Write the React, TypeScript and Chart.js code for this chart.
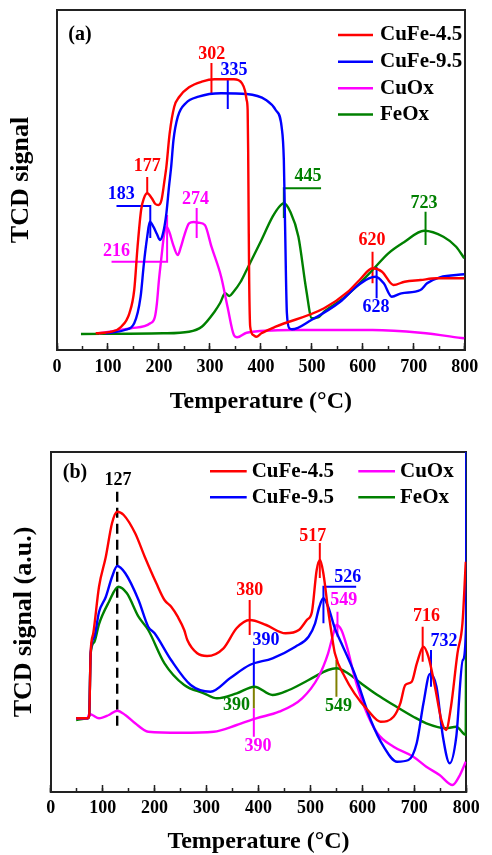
import React, { useEffect, useRef } from "react";
import { Chart, registerables } from "chart.js";

Chart.register(...registerables);

const FONT = "'Liberation Serif', 'Times New Roman', serif";

// ---------- Panel (a) data: [temperature (°C), TCD signal (arb. units)] ----------
const aCuFe45: number[][] = [
  [76, 16.7], [107, 18.3], [126, 23.3], [142, 36.7], [151.5, 60], [158, 103], [165, 140], [170.5, 151.7],
  [177, 156.7], [186, 151.7], [193, 146], [199, 145], [205, 150], [211, 170], [214.6, 183.3], [221, 216.7],
  [230, 243.3], [240, 253.3], [259, 262.7], [284, 268.3], [309, 270.7], [347, 270.7], [363, 266.7], [369, 259],
  [372, 250], [374, 240], [375, 200], [376, 130], [377, 70], [379, 23.3], [385, 15], [391, 13.3], [401, 16.7],
  [429, 23.3], [524, 41.7], [571, 58.3], [593.5, 70], [619, 81.7], [637.6, 78.3], [660, 65], [682, 68.3],
  [713, 70], [745, 71.7], [799, 71.7],
];
const aCuFe95: number[][] = [
  [95, 16.7], [133, 20], [151.5, 26.7], [164, 53.3], [170.5, 86.7], [177, 113.3], [182, 128.3], [189, 123.3],
  [196, 116], [202, 110], [208, 116.7], [214.6, 136.7], [219.7, 163.3], [224, 183.3], [228.5, 210], [237, 233.3],
  [252.5, 246.7], [277.7, 253.3], [322, 256.7], [372, 256], [410, 250], [429, 240], [440.6, 223.3], [445, 190],
  [447, 136.7], [451, 36.7], [456, 21.7], [461, 20.7], [499, 30], [555.6, 48.3], [587, 63.3], [612, 71.7],
  [625, 73.3], [641, 66.7], [656.6, 53.3], [675.5, 56.7], [713, 60], [726, 66.7], [751, 72.7], [799, 75.7],
];
const aCuOx: number[][] = [
  [82, 16.7], [145, 21.7], [183, 26.7], [192, 33], [196, 46.7], [200, 70], [205, 93.3], [210, 115], [215, 123.3],
  [221, 117], [227, 106.7], [237, 95], [243, 103], [249, 113.3], [259, 126.7], [268, 128], [278, 127.3],
  [290, 125], [303, 103.3], [322, 73.3], [334.5, 43.3], [347, 15], [353.5, 12.7], [372, 17.3], [461, 20],
  [619, 20], [713, 17.3], [799, 11.7],
];
const aFeOx: number[][] = [
  [47, 16], [208, 16.7], [259, 18.3], [284, 23.3], [309, 38.3], [320, 47], [330, 56.7], [338, 54], [346, 58],
  [360, 68], [372, 80], [398, 106.7], [423, 133.3], [436, 143.3], [445, 146.7], [457.6, 138.3], [473.6, 113.3],
  [489, 60], [500, 31.7], [507, 32], [514.5, 33.3], [524, 38.3], [562, 51.7], [587, 63.3], [619, 80],
  [650, 96.7], [682, 108.3], [720, 119.3], [758, 113.3], [783, 103.3], [799, 91.7],
];

// ---------- Panel (b) data ----------
const bCuFe45: number[][] = [
  [49, 73.7], [71, 73.7], [74, 76], [77, 140.3], [82, 158.7], [93, 205.3], [106, 235], [118, 268.7], [128, 280.3],
  [140.5, 277], [162.6, 258.7], [181, 235.3], [203.4, 208.7], [219, 192], [232, 185.3], [244.5, 175.3], [257, 162],
  [263, 152], [282, 138.7], [301, 136], [332.6, 143.7], [357.8, 163.7], [383, 172], [414.7, 167], [452, 158.7],
  [477.6, 162], [493, 172], [502.8, 180], [512, 222], [518.5, 232], [524.8, 218.7], [534, 182], [540.6, 158.7],
  [547, 138.7], [566, 115.3], [584.7, 98.7], [610, 82], [635, 70.3], [660, 75.3], [673, 88.7], [682.5, 107],
  [695, 110.3], [704.8, 128.7], [717.5, 145.3], [727, 135.3], [739.7, 105.3], [752, 72], [761, 62], [770.5, 85.3],
  [783, 138.7], [792.6, 168.7], [799, 230.3],
];
const bCuFe95: number[][] = [
  [49, 73.7], [71, 73.7], [74, 76], [77, 140], [84, 155], [93, 180], [106, 195], [118, 215], [128, 226],
  [143.6, 218.7], [169, 192], [187.7, 165.3], [200, 158.7], [231.7, 132], [269.5, 107], [307.5, 100.3],
  [345, 113.7], [383, 127], [427, 133.7], [471, 145.3], [496.4, 155.3], [509, 168.7], [517, 185], [524.8, 193.7],
  [534, 185.3], [547, 163.7], [559.6, 148.7], [584.7, 118.7], [616, 72], [641, 45.3], [666.6, 30.3],
  [688.7, 32], [704.5, 48.7], [717.5, 88.7], [730, 118], [742.6, 105.3], [755, 55.3], [768, 28.7],
  [780.7, 55.3], [793.3, 132], [799.6, 165.3], [800, 345],
];
const bCuOx: number[][] = [
  [49, 73.7], [71, 73.7], [74, 78], [80, 77], [93, 73.7], [112, 77], [128, 81.3], [143.6, 77], [162.6, 68.7],
  [187.7, 60.3], [250.6, 59.3], [313.8, 60.3], [358, 67], [395.6, 73.7], [439.7, 80.3], [484, 93.7],
  [515.5, 115.3], [534, 138.7], [545, 160], [550, 167], [559.6, 162], [572, 142], [584.7, 115.3], [603.6, 85.3],
  [628.8, 58.7], [660, 45.3], [698, 35.3], [723, 25.3], [748.5, 17], [773.7, 7], [786, 15.3], [799, 30.3],
];
const bFeOx: number[][] = [
  [49, 72], [71, 73.7], [74, 76], [77, 138.7], [84, 150], [93, 168], [112, 190], [130, 205.3], [146.7, 198.7],
  [169, 175.3], [187.7, 162], [219, 128.7], [257, 107], [294.9, 98.7], [320, 93.7], [358, 98.7], [392, 105.3],
  [427, 97], [458.6, 102], [496.4, 112], [534, 122], [550, 123.7], [572, 118.7], [597.4, 108.7], [629, 97],
  [660, 87], [698, 75.3], [723, 68.7], [761, 63.7], [780.7, 65.3], [799, 57], [800.4, 345],
];

// ---------- Peak markers (data coordinates) ----------
const aMarks = [
  { s: "CuFe-4.5", pts: [[303, 287], [303, 255]] },
  { s: "CuFe-9.5", pts: [[335, 272], [335, 241]] },
  { s: "CuFe-4.5", pts: [[177, 173], [177, 157]] },
  { s: "CuFe-9.5", pts: [[116.7, 144], [183, 144], [183, 112]] },
  { s: "CuOx", pts: [[107, 88.3], [216, 88.3], [216, 135]] },
  { s: "CuOx", pts: [[274, 142], [274, 112]] },
  { s: "FeOx", pts: [[518, 161.7], [445, 161.7], [445, 132]] },
  { s: "FeOx", pts: [[723, 138.3], [723, 105]] },
  { s: "CuFe-4.5", pts: [[619, 98.3], [619, 66.7]] },
  { s: "CuFe-9.5", pts: [[627, 83], [627, 51.7]] },
];
const aPeakLabels = [
  { t: "302", x: 303.6, y: 296, s: "CuFe-4.5" },
  { t: "335", x: 347, y: 279.6, s: "CuFe-9.5" },
  { t: "177", x: 177, y: 183.3, s: "CuFe-4.5" },
  { t: "183", x: 126, y: 155.5, s: "CuFe-9.5" },
  { t: "216", x: 116.7, y: 98.8, s: "CuOx" },
  { t: "274", x: 271.5, y: 150.8, s: "CuOx" },
  { t: "445", x: 492.5, y: 173.3, s: "FeOx" },
  { t: "723", x: 720, y: 146.7, s: "FeOx" },
  { t: "620", x: 617.8, y: 109.2, s: "CuFe-4.5" },
  { t: "628", x: 626, y: 42.2, s: "CuFe-9.5" },
];
const bMarks = [
  { s: "guide", pts: [[128, 300.3], [128, 60.3]], dash: true },
  { s: "CuFe-4.5", pts: [[518, 249], [518, 214]] },
  { s: "CuFe-9.5", pts: [[588, 205.3], [525, 205.3], [525, 168.7]] },
  { s: "CuOx", pts: [[552, 180.3], [552, 155.3]] },
  { s: "CuFe-4.5", pts: [[383, 192], [383, 157]] },
  { s: "CuFe-9.5", pts: [[391, 143.7], [391, 105.3]] },
  { s: "FeOx-mark", pts: [[391, 105.3], [391, 83.7]] },
  { s: "CuOx", pts: [[391, 83.7], [391, 55.3]] },
  { s: "FeOx-mark", pts: [[550, 132], [550, 95.3]] },
  { s: "CuFe-4.5", pts: [[716, 165.3], [716, 130.3]] },
  { s: "CuFe-9.5", pts: [[732, 142], [732, 105.3]] },
];
const bPeakLabels = [
  { t: "127", x: 129.7, y: 311.8, s: "guide" },
  { t: "517", x: 504.4, y: 255.3, s: "CuFe-4.5" },
  { t: "526", x: 572, y: 214.8, s: "CuFe-9.5" },
  { t: "549", x: 564, y: 191.5, s: "CuOx" },
  { t: "380", x: 383, y: 201.7, s: "CuFe-4.5" },
  { t: "390", x: 414.6, y: 151.7, s: "CuFe-9.5" },
  { t: "390", x: 357.8, y: 86.5, s: "FeOx" },
  { t: "390", x: 398.9, y: 45.7, s: "CuOx" },
  { t: "549", x: 553.8, y: 85.7, s: "FeOx" },
  { t: "716", x: 723.3, y: 175.3, s: "CuFe-4.5" },
  { t: "732", x: 757, y: 150.3, s: "CuFe-9.5" },
];

const COLORS: Record<string, string> = {
  "CuFe-4.5": "#ff0000",
  "CuFe-9.5": "#0000ff",
  CuOx: "#ff00ff",
  FeOx: "#008000",
  "FeOx-mark": "#808000",
  guide: "#000000",
};
const AXIS = "#222222";

type Panel = {
  curves: { label: string; pts: number[][] }[];
  marks: { s: string; pts: number[][]; dash?: boolean }[];
  labels: { t: string; x: number; y: number; s: string }[];
  area: { left: number; right: number; top: number; bottom: number };
  height: number;
  tickPad: number;
  xTitlePad: number;
  yTitle: string;
  yTitlePad: number;
  tag: { text: string; x: number; y: number };
  legend: { s: string; x1: number; x2: number; tx: number; y: number }[];
};

const panelA: Panel = {
  curves: [
    { label: "CuFe-4.5", pts: aCuFe45 },
    { label: "CuFe-9.5", pts: aCuFe95 },
    { label: "CuOx", pts: aCuOx },
    { label: "FeOx", pts: aFeOx },
  ],
  marks: aMarks,
  labels: aPeakLabels,
  area: { left: 57, right: 479, top: 10, bottom: 350 },
  height: 420,
  tickPad: 13.7,
  xTitlePad: 4.8,
  yTitle: "TCD signal",
  yTitlePad: 6.7,
  tag: { text: "(a)", x: 80, y: 35 },
  legend: [
    { s: "CuFe-4.5", x1: 338, x2: 373, tx: 380, y: 35 },
    { s: "CuFe-9.5", x1: 338, x2: 373, tx: 380, y: 61.7 },
    { s: "CuOx", x1: 338, x2: 373, tx: 380, y: 88.3 },
    { s: "FeOx", x1: 338, x2: 373, tx: 380, y: 114.5 },
  ],
};

const panelB: Panel = {
  curves: [
    { label: "CuFe-4.5", pts: bCuFe45 },
    { label: "CuFe-9.5", pts: bCuFe95 },
    { label: "CuOx", pts: bCuOx },
    { label: "FeOx", pts: bFeOx },
  ],
  marks: bMarks,
  labels: bPeakLabels,
  area: { left: 50.7, right: 474, top: 32, bottom: 372 },
  height: 435,
  tickPad: 12.2,
  xTitlePad: 0,
  yTitle: "TCD signal (a.u.)",
  yTitlePad: 9.9,
  tag: { text: "(b)", x: 75, y: 53.3 },
  legend: [
    { s: "CuFe-4.5", x1: 210, x2: 246.7, tx: 251.7, y: 51.3 },
    { s: "CuFe-9.5", x1: 210, x2: 246.7, tx: 251.7, y: 77.3 },
    { s: "CuOx", x1: 358.3, x2: 395, tx: 400, y: 51.3 },
    { s: "FeOx", x1: 358.3, x2: 395, tx: 400, y: 77.3 },
  ],
};

function buildConfig(p: Panel): any {
  const W = 492;
  const toXY = (pts: number[][]) => pts.map(([x, y]) => ({ x, y }));
  const datasets: any[] = [
    ...p.curves.map((c) => ({
      label: c.label,
      data: toXY(c.pts),
      borderColor: COLORS[c.label],
      borderWidth: 2.4,
      pointRadius: 0,
      fill: false,
      cubicInterpolationMode: "monotone",
    })),
    ...p.marks.map((m) => ({
      label: "",
      data: toXY(m.pts),
      borderColor: COLORS[m.s],
      borderWidth: m.dash ? 2.4 : 2,
      borderDash: m.dash ? [10, 6] : [],
      pointRadius: 0,
      fill: false,
      tension: 0,
    })),
  ];

  const annotate = {
    id: "annotate",
    afterDatasetsDraw(chart: any) {
      const { ctx, scales } = chart;
      const xs = scales.x;
      const ys = scales.y;
      ctx.save();
      ctx.textAlign = "center";
      ctx.textBaseline = "middle";
      ctx.font = `bold 18px ${FONT}`;
      for (const l of p.labels) {
        ctx.fillStyle = COLORS[l.s];
        ctx.fillText(l.t, xs.getPixelForValue(l.x), ys.getPixelForValue(l.y));
      }
      ctx.font = `bold 20px ${FONT}`;
      ctx.fillStyle = "#000";
      ctx.fillText(p.tag.text, p.tag.x, p.tag.y);
      ctx.font = `bold 21px ${FONT}`;
      ctx.textAlign = "left";
      for (const e of p.legend) {
        ctx.strokeStyle = COLORS[e.s];
        ctx.lineWidth = 2.5;
        ctx.beginPath();
        ctx.moveTo(e.x1, e.y);
        ctx.lineTo(e.x2, e.y);
        ctx.stroke();
        ctx.fillStyle = "#000";
        ctx.fillText(e.s, e.tx, e.y);
      }
      ctx.restore();
    },
  };

  const tickFont = { family: FONT, weight: "bold" as const, size: 18 };
  const titleFont = { family: FONT, weight: "bold" as const, size: 24, lineHeight: 1.1 };
  const yTitleFont = { family: FONT, weight: "bold" as const, size: 26, lineHeight: 1.1 };
  const border = { display: true, color: AXIS, width: 2 };

  return {
    type: "line",
    data: { datasets },
    plugins: [annotate],
    options: {
      animation: false,
      responsive: false,
      maintainAspectRatio: false,
      layout: { padding: { left: 0, top: p.area.top, right: W - p.area.right, bottom: 0 } },
      plugins: { legend: { display: false }, tooltip: { enabled: false }, title: { display: false } },
      scales: {
        x: {
          type: "linear",
          position: "bottom",
          weight: 1,
          min: 0,
          max: 800,
          ticks: { stepSize: 100, color: "#000", font: tickFont, padding: p.tickPad, maxRotation: 0, autoSkip: false },
          grid: { display: true, drawOnChartArea: false, drawTicks: true, tickLength: -7, tickColor: AXIS, tickWidth: 1.5 },
          border,
          title: { display: true, text: "Temperature (°C)", color: "#000", font: titleFont, padding: { top: 0, bottom: p.xTitlePad } },
          afterFit: (s: any) => {
            s.height = p.height - p.area.bottom;
          },
        },
        xMinor: {
          type: "linear",
          position: "bottom",
          weight: 0,
          min: 0,
          max: 800,
          ticks: { display: false, stepSize: 50 },
          grid: { display: true, drawOnChartArea: false, drawTicks: true, tickLength: -4, tickColor: AXIS, tickWidth: 1.5 },
          border: { display: false },
          afterFit: (s: any) => {
            s.height = 0;
          },
        },
        xTop: {
          type: "linear",
          position: "top",
          min: 0,
          max: 800,
          ticks: { display: false },
          grid: { display: true, drawOnChartArea: false, drawTicks: false },
          border,
          afterFit: (s: any) => {
            s.height = 0;
          },
        },
        y: {
          type: "linear",
          position: "left",
          min: 0,
          max: 340,
          ticks: { display: false },
          grid: { display: true, drawOnChartArea: false, drawTicks: false },
          border,
          title: { display: true, text: p.yTitle, color: "#000", font: yTitleFont, padding: { top: p.yTitlePad, bottom: 0 } },
          afterFit: (s: any) => {
            s.width = p.area.left;
          },
        },
        yRight: {
          type: "linear",
          position: "right",
          min: 0,
          max: 340,
          ticks: { display: false },
          grid: { display: true, drawOnChartArea: false, drawTicks: false },
          border,
          afterFit: (s: any) => {
            s.width = 0;
          },
        },
      },
    },
  };
}

export default function App() {
  const refA = useRef<HTMLCanvasElement>(null);
  const refB = useRef<HTMLCanvasElement>(null);

  useEffect(() => {
    Chart.defaults.font.family = FONT;
    const ca = new Chart(refA.current as HTMLCanvasElement, buildConfig(panelA));
    const cb = new Chart(refB.current as HTMLCanvasElement, buildConfig(panelB));
    return () => {
      ca.destroy();
      cb.destroy();
    };
  }, []);

  return (
    <div style={{ position: "absolute", left: 0, top: 0, width: 492, height: 855, background: "#fff" }}>
      <canvas
        ref={refA}
        width={492}
        height={420}
        style={{ position: "absolute", left: 0, top: 0, width: 492, height: 420 }}
      />
      <canvas
        ref={refB}
        width={492}
        height={435}
        style={{ position: "absolute", left: 0, top: 420, width: 492, height: 435 }}
      />
    </div>
  );
}
